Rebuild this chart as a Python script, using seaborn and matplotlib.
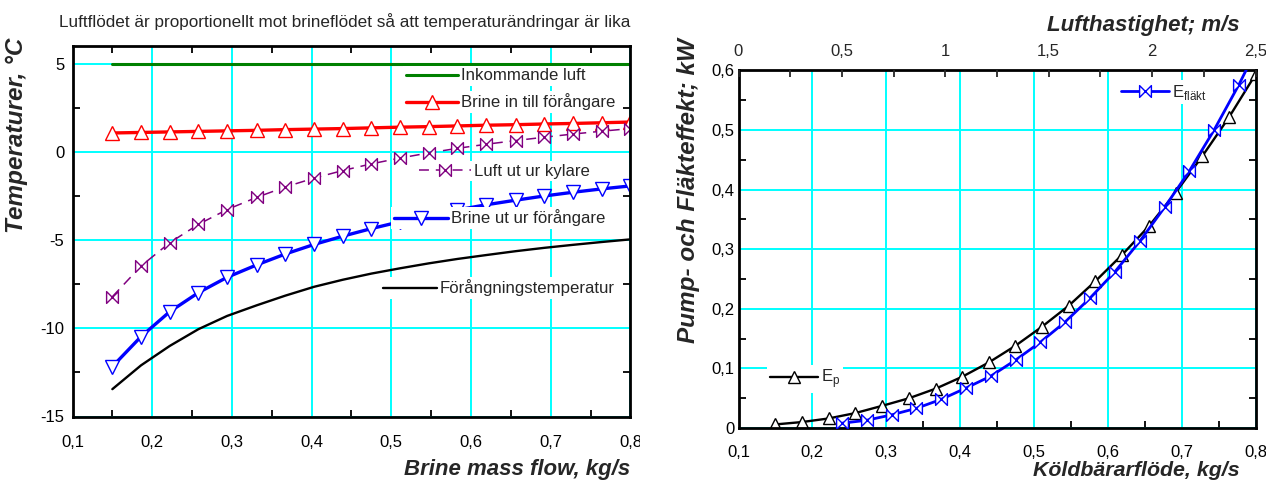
import matplotlib
matplotlib.use("Agg")
import matplotlib.pyplot as plt
from matplotlib.path import Path
from matplotlib.transforms import Bbox, TransformedBbox
import pandas as pd
import seaborn as sns

# ---------------- data ----------------
# brine mass flow, kg/s (shared x for the temperature curves and E_p)
brine_flow = [0.150, 0.186, 0.222, 0.258, 0.294, 0.331, 0.367, 0.403, 0.439,
              0.475, 0.511, 0.547, 0.583, 0.619, 0.656, 0.692, 0.728, 0.764, 0.800]

incoming_air = [5.0, 5.0, 5.0, 5.0, 5.0, 5.0, 5.0, 5.0, 5.0, 5.0,
                5.0, 5.0, 5.0, 5.0, 5.0, 5.0, 5.0, 5.0, 5.0]
brine_in = [1.07, 1.10, 1.13, 1.16, 1.19, 1.22, 1.26, 1.29, 1.32, 1.36,
            1.40, 1.43, 1.47, 1.51, 1.54, 1.58, 1.61, 1.65, 1.69]
air_out = [-8.21, -6.47, -5.15, -4.11, -3.27, -2.58, -1.99, -1.49, -1.06, -0.68,
           -0.35, -0.06, 0.20, 0.43, 0.64, 0.83, 1.01, 1.17, 1.32]
brine_out = [-12.17, -10.47, -9.06, -7.98, -7.11, -6.41, -5.79, -5.25, -4.78, -4.35,
             -3.96, -3.61, -3.29, -3.00, -2.74, -2.50, -2.29, -2.10, -1.93]
evap_temp = [-13.45, -12.10, -11.00, -10.05, -9.30, -8.70, -8.15, -7.65, -7.25, -6.90,
             -6.60, -6.32, -6.07, -5.85, -5.63, -5.44, -5.27, -5.11, -4.96]

# pump power, kW (vs brine flow)
pump_power = [0.006, 0.010, 0.016, 0.025, 0.037, 0.050, 0.066, 0.086, 0.110, 0.138,
              0.170, 0.205, 0.246, 0.290, 0.339, 0.395, 0.456, 0.521, 0.593]
# fan power, kW (vs air velocity, m/s)
air_speed = [0.50, 0.62, 0.74, 0.86, 0.98, 1.10, 1.22, 1.34, 1.46, 1.58,
             1.70, 1.82, 1.94, 2.06, 2.18, 2.30, 2.42, 2.54]
fan_power = [0.008, 0.013, 0.022, 0.033, 0.048, 0.067, 0.087, 0.114, 0.144, 0.178,
             0.218, 0.262, 0.313, 0.370, 0.431, 0.500, 0.576, 0.660]

# axis ticks
flow_ticks = [0.1, 0.2, 0.3, 0.4, 0.5, 0.6, 0.7, 0.8]
flow_ticklabels = ["0,1", "0,2", "0,3", "0,4", "0,5", "0,6", "0,7", "0,8"]
flow_minor = [0.15, 0.25, 0.35, 0.45, 0.55, 0.65, 0.75]
temp_ticks = [-15, -10, -5, 0, 5]
temp_ticklabels = ["-15", "-10", "-5", "0", "5"]
temp_minor = [-12.5, -7.5, -2.5, 2.5]
power_ticks = [0, 0.1, 0.2, 0.3, 0.4, 0.5, 0.6]
power_ticklabels = ["0", "0,1", "0,2", "0,3", "0,4", "0,5", "0,6"]
power_minor = [0.05, 0.15, 0.25, 0.35, 0.45, 0.55]
speed_ticks = [0, 0.5, 1.0, 1.5, 2.0, 2.5]
speed_ticklabels = ["0", "0,5", "1", "1,5", "2", "2,5"]
speed_minor = [0.25, 0.75, 1.25, 1.75, 2.25]

# ---------------- style ----------------
sns.set_theme(style="white")
plt.rcParams["font.family"] = ["Liberation Sans", "DejaVu Sans"]
plt.rcParams["mathtext.fontset"] = "custom"
plt.rcParams["mathtext.rm"] = "Liberation Sans"
plt.rcParams["axes.unicode_minus"] = False

W, H = 1266, 482
fig = plt.figure(figsize=(W / 100, H / 100), dpi=100)
fig.patch.set_facecolor("white")

CYAN = "#00FFFF"
TICK_FS = 12
LABEL_FS = 16
YLABEL_FS = 17.5
LEG_FS = 12.1

bowtie = Path([(-1, -1), (1, 1), (1, -1), (-1, 1), (-1, -1)],
              [Path.MOVETO, Path.LINETO, Path.LINETO, Path.LINETO, Path.CLOSEPOLY])


def px_axes(x0, y0, x1, y1):
    return fig.add_axes([x0 / W, 1 - y1 / H, (x1 - x0) / W, (y1 - y0) / H])


def style_frame(ax):
    ax.set_facecolor("white")
    ax.set_axisbelow(True)
    for s in ax.spines.values():
        s.set_visible(True)
        s.set_color("black")
        s.set_linewidth(2.0)
    ax.grid(True, which="major", color=CYAN, lw=1.4)
    ax.tick_params(which="major", length=0, labelsize=TICK_FS, colors="black")
    ax.tick_params(which="minor", direction="in", length=5, width=1.3, color="black")


def legend_entry(ax, handle, label, x_px, y_px, hl_px):
    fs_px = LEG_FS * 100 / 72
    leg = ax.legend(handles=[handle], labels=[label], loc="center left",
                    bbox_to_anchor=(x_px / W, 1 - y_px / H), bbox_transform=fig.transFigure,
                    frameon=True, fancybox=False, framealpha=1, facecolor="white",
                    edgecolor="none", borderpad=0.15, borderaxespad=0,
                    handlelength=hl_px / fs_px, handletextpad=0.2, fontsize=LEG_FS,
                    numpoints=1)
    leg.set_zorder(6)
    ax.add_artist(leg)


def bold_label(x_px, y_px, text, size=LABEL_FS, **kw):
    fig.text(x_px / W, 1 - y_px / H, text, fontsize=size, fontweight="bold",
             fontstyle="italic", **kw)


# ---------------- left: temperatures ----------------
temps = pd.DataFrame({"flow": brine_flow, "incoming": incoming_air, "brine_in": brine_in,
                      "air_out": air_out, "brine_out": brine_out, "evap": evap_temp})

ax1 = px_axes(72.5, 46, 630.4, 416.5)
style_frame(ax1)

sns.lineplot(data=temps, x="flow", y="incoming", ax=ax1, color="#008000", lw=2.2,
             estimator=None, sort=False)
h_green = ax1.lines[-1]
sns.lineplot(data=temps, x="flow", y="brine_in", ax=ax1, color="#FF0000", lw=2.4,
             marker="^", markersize=9.5, markerfacecolor="white", markeredgecolor="#FF0000",
             markeredgewidth=1.0, estimator=None, sort=False)
h_red = ax1.lines[-1]
sns.lineplot(data=temps, x="flow", y="air_out", ax=ax1, color="#800080", lw=1.1,
             marker=bowtie, markersize=8.5, markerfacecolor="white", markeredgecolor="#800080",
             markeredgewidth=1.0, estimator=None, sort=False)
h_purple = ax1.lines[-1]
h_purple.set_linestyle((0, (6.5, 4.5)))
sns.lineplot(data=temps, x="flow", y="brine_out", ax=ax1, color="#0000FF", lw=2.4,
             marker="v", markersize=9.5, markerfacecolor="white", markeredgecolor="#0000FF",
             markeredgewidth=1.0, estimator=None, sort=False)
h_blue = ax1.lines[-1]
sns.lineplot(data=temps, x="flow", y="evap", ax=ax1, color="black", lw=1.7,
             estimator=None, sort=False)
h_black = ax1.lines[-1]

ax1.set_xlim(0.1, 0.8)
ax1.set_ylim(-15, 6)
ax1.set_xticks(flow_ticks)
ax1.set_xticklabels(flow_ticklabels)
ax1.set_xticks(flow_minor, minor=True)
ax1.set_yticks(temp_ticks)
ax1.set_yticklabels(temp_ticklabels)
ax1.set_yticks(temp_minor, minor=True)
ax1.tick_params(axis="x", which="major", pad=13)
ax1.tick_params(axis="y", which="major", pad=6)
ax1.tick_params(which="minor", top=True, right=True, bottom=True, left=True)
ax1.set_xlabel("")
ax1.set_ylabel("")

# the right-most tick label is cut at the panel edge
panel_clip = TransformedBbox(Bbox([[0, 0], [640 / W, 1]]), fig.transFigure)
for lab in ax1.get_xticklabels():
    lab.set_clip_box(panel_clip)
    lab.set_clip_on(True)

legend_entry(ax1, h_green, "Inkommande luft", 403, 76, 52)
legend_entry(ax1, h_red, "Brine in till förångare", 403, 102, 52)
legend_entry(ax1, h_purple, "Luft ut ur kylare", 416, 171, 52)
legend_entry(ax1, h_blue, "Brine ut ur förångare", 391, 218, 54)
legend_entry(ax1, h_black, "Förångningstemperatur", 380, 288, 54)

fig.text(345 / W, 1 - 22 / H, "Luftflödet är proportionellt mot brineflödet så att temperaturändringar är lika",
         ha="center", va="center", fontsize=12.3)
bold_label(630, 470, "Brine mass flow, kg/s", ha="right", va="center")
bold_label(17, 38, "Temperaturer, °C", size=YLABEL_FS, ha="center", va="top", rotation=90)

# ---------------- right: pump and fan power ----------------
pump = pd.DataFrame({"flow": brine_flow, "power": pump_power})
fan = pd.DataFrame({"speed": air_speed, "power": fan_power})

ax2 = px_axes(738.5, 70.3, 1255.5, 428)
style_frame(ax2)
ax3 = ax2.twiny()
ax3.set_axisbelow(True)

sns.lineplot(data=pump, x="flow", y="power", ax=ax2, color="black", lw=1.7,
             marker="^", markersize=8.5, markerfacecolor="white", markeredgecolor="black",
             markeredgewidth=1.0, estimator=None, sort=False)
h_pump = ax2.lines[-1]
sns.lineplot(data=fan, x="speed", y="power", ax=ax3, color="#0000FF", lw=2.0,
             marker=bowtie, markersize=8.5, markerfacecolor="white", markeredgecolor="#0000FF",
             markeredgewidth=1.0, estimator=None, sort=False)
h_fan = ax3.lines[-1]

ax2.set_xlim(0.1, 0.8)
ax2.set_ylim(0, 0.6)
ax2.set_xticks(flow_ticks)
ax2.set_xticklabels(flow_ticklabels)
ax2.set_xticks(flow_minor, minor=True)
ax2.set_yticks(power_ticks)
ax2.set_yticklabels(power_ticklabels)
ax2.set_yticks(power_minor, minor=True)
ax2.tick_params(axis="x", which="major", pad=12)
ax2.tick_params(axis="y", which="major", pad=3)
ax2.tick_params(which="minor", top=False, right=True, bottom=True, left=True)
ax2.set_xlabel("")
ax2.set_ylabel("")

ax3.set_xlim(0, 2.5)
ax3.set_ylim(0, 0.6)
ax3.set_xticks(speed_ticks)
ax3.set_xticklabels(speed_ticklabels)
ax3.set_xticks(speed_minor, minor=True)
ax3.tick_params(axis="x", which="both", direction="in", length=5, width=1.3,
                labelsize=TICK_FS, pad=8, top=True, bottom=False)
ax3.grid(False)
ax3.set_xlabel("")
ax3.set_ylabel("")
for s in ax3.spines.values():
    s.set_visible(False)

legend_entry(ax3, h_pump, r"E$_\mathregular{p}$", 767, 379, 48)
legend_entry(ax3, h_fan, r"E$_\mathregular{fläkt}$", 1118, 92, 48)

bold_label(1240, 470, "Köldbärarflöde, kg/s", size=15.4, ha="right", va="center")
bold_label(1240, 25, "Lufthastighet; m/s", ha="right", va="center")
bold_label(688, 38, "Pump- och Fläkteffekt; kW", size=YLABEL_FS, ha="center", va="top", rotation=90)

fig.savefig("out.png", dpi=100, facecolor="white")
